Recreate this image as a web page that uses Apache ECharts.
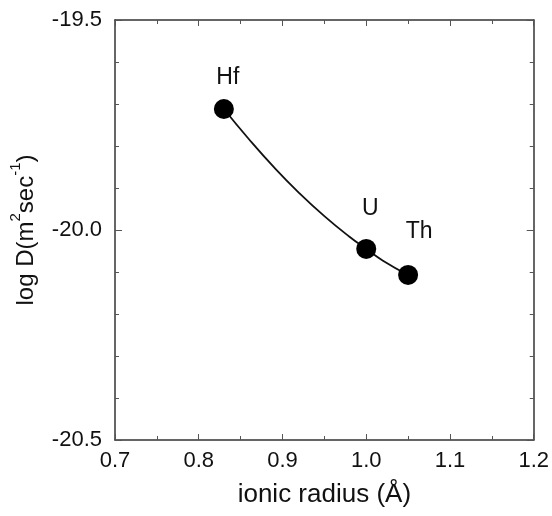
<!DOCTYPE html>
<html>
<head>
<meta charset="utf-8">
<script src="https://cdn.jsdelivr.net/npm/echarts@6/dist/echarts.min.js"></script>
<style>html,body{margin:0;padding:0;background:#fff;}#c{width:552px;height:516px;}</style>
</head>
<body>
<div id="c"></div>
<script>
// Measured elements
var elements = ['Hf', 'U', 'Th'];
var ionicRadius = [0.83, 1.00, 1.05];
var logD = [-19.712, -20.045, -20.107];
// Fitted curve
var curveX = [0.83, 0.86, 0.89, 0.92, 0.95, 0.98, 1.00, 1.02, 1.05];
var curveY = [-19.712, -19.784, -19.851, -19.912, -19.967, -20.016, -20.045, -20.073, -20.107];
// Axis ticks
var xTicks = [0.7, 0.8, 0.9, 1.0, 1.1, 1.2];
var yTicks = [-20.5, -20.0, -19.5];

var FONT = 'Liberation Sans, Arial, sans-serif';
var TXT = '#111';
var labelOffsets = {Hf: [4, -2], U: [4, -11], Th: [11, -14]};

var chart = echarts.init(document.getElementById('c'), null, {renderer: 'canvas'});
var axisLineStyle = {color: '#333', width: 1.5};
var tickStyle = {color: '#555', width: 1};

function xAxisCfg(show) {
  return {
    type: 'value', min: xTicks[0], max: xTicks[xTicks.length - 1], interval: 0.1,
    position: show ? 'bottom' : 'top',
    axisLine: {show: true, onZero: false, lineStyle: axisLineStyle},
    axisTick: {show: true, inside: true, length: 6, lineStyle: tickStyle},
    minorTick: {show: true, splitNumber: 2, length: 4, lineStyle: tickStyle},
    splitLine: {show: false},
    axisLabel: {show: show, fontSize: 22, color: TXT, fontFamily: FONT, margin: 10,
      formatter: function (v) { return v.toFixed(1); }},
    name: show ? 'ionic radius (Å)' : '',
    nameLocation: 'middle', nameGap: 42,
    nameTextStyle: {fontSize: 26, color: TXT, fontFamily: FONT}
  };
}
function yAxisCfg(show) {
  return {
    type: 'value', min: yTicks[0], max: yTicks[yTicks.length - 1], interval: 0.5,
    position: show ? 'left' : 'right',
    axisLine: {show: true, onZero: false, lineStyle: axisLineStyle},
    axisTick: {show: true, inside: true, length: 7, lineStyle: tickStyle},
    minorTick: {show: true, splitNumber: 5, length: 4, lineStyle: tickStyle},
    splitLine: {show: false},
    axisLabel: {show: show, fontSize: 22, color: TXT, fontFamily: FONT, margin: 13,
      formatter: function (v) { return v.toFixed(1); }},
    name: show ? '{n|log D(m}{s|2}{n|sec}{s|-1}{n|)}' : '',
    nameLocation: 'middle', nameGap: 77, nameRotate: 90,
    nameTextStyle: {fontSize: 24, color: TXT, fontFamily: FONT,
      rich: {
        n: {fontSize: 24, color: TXT, fontFamily: FONT, verticalAlign: 'bottom', lineHeight: 30},
        s: {fontSize: 15, color: TXT, fontFamily: FONT, verticalAlign: 'top', lineHeight: 30}
      }}
  };
}

var pts = elements.map(function (e, i) {
  return {
    value: [ionicRadius[i], logD[i]],
    label: {show: true, formatter: e, position: 'top', offset: labelOffsets[e],
      fontSize: 23, color: TXT, fontFamily: FONT, distance: 8}
  };
});
var curve = curveX.map(function (x, i) { return [x, curveY[i]]; });

chart.setOption({
  animation: false,
  backgroundColor: '#fff',
  grid: {left: 113, right: 17, top: 20, bottom: 76, containLabel: false},
  xAxis: [xAxisCfg(true), xAxisCfg(false)],
  yAxis: [yAxisCfg(true), yAxisCfg(false)],
  series: [
    {type: 'line', data: curve, smooth: true, showSymbol: false, symbol: 'none',
      lineStyle: {color: '#111', width: 1.8}, z: 2, silent: true},
    {type: 'scatter', data: pts, symbol: 'circle', symbolSize: 20,
      itemStyle: {color: '#000', opacity: 1}, z: 3}
  ]
});
</script>
</body>
</html>
